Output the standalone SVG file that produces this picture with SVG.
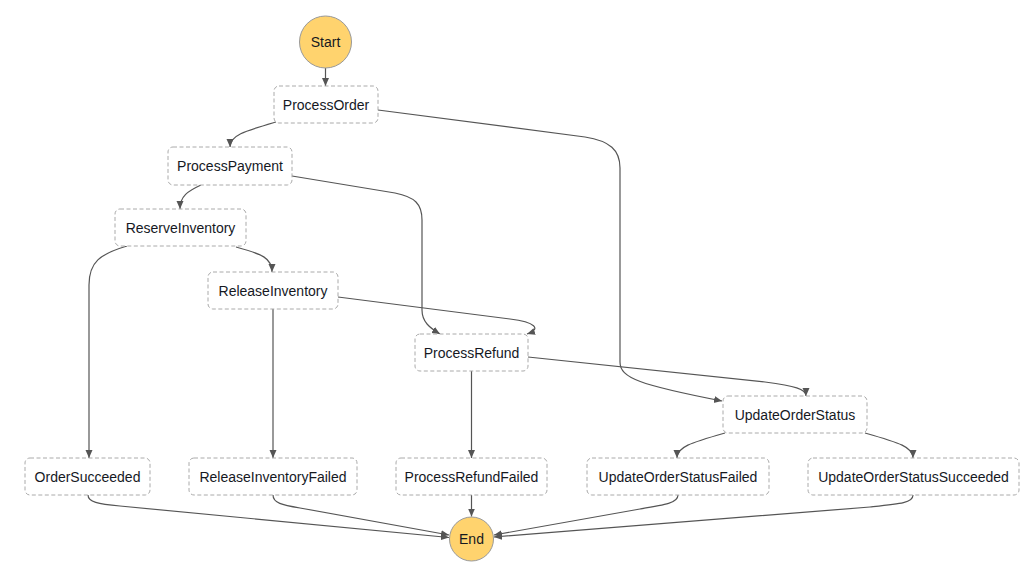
<svg xmlns="http://www.w3.org/2000/svg" width="1030" height="565" viewBox="0 0 1030 565">
<defs>
<marker id="arr" markerUnits="userSpaceOnUse" markerWidth="9" markerHeight="8" refX="8" refY="3.5" orient="auto">
<path d="M0,0 L8,3.5 L0,7 z" fill="#555"/>
</marker>
<style>
.node rect{fill:#fff;stroke:#aaa;stroke-width:1;stroke-dasharray:4 2.5}
.term circle{fill:#ffd36e;stroke:#999;stroke-width:1}
text{font-family:"Liberation Sans",Arial,sans-serif;font-size:14px;fill:#16191f;text-anchor:middle}
#edges path{fill:none;stroke:#555;stroke-width:1.2;marker-end:url(#arr)}
</style>
</defs>
<rect width="1030" height="565" fill="#fff"/>
<g id="edges">
<path d="M325.5,68 L325.5,86"/>
<path d="M276,122 C245,131 230,135 230,147"/>
<path d="M378,110 L585,137 C610,141 620,150 620,168 L620,362 C620,378 640,385 722,401"/>
<path d="M201,185 C188,191 180,196 180,209"/>
<path d="M292,176 L395,193 C415,197 422,204 422,220 L422,310 C422,322 430,328 440,334"/>
<path d="M127,246 C100,254 89,262 89,285 L89,458"/>
<path d="M236,247 C262,254 272,258 272,272"/>
<path d="M273,309 L273,458"/>
<path d="M338,297 L510,319 C535,322 542,329 527,334"/>
<path d="M471.5,371 L471.5,458"/>
<path d="M528,357 L765,382 C795,386 806,389 806,396"/>
<path d="M725,433 C690,443 677,447 677,458"/>
<path d="M865,433 C900,443 913,447 913,458"/>
<path d="M88,495 C88,502 98,504 120,506 L449,537.5"/>
<path d="M273,495 C273,503 282,505 300,508 L449,535"/>
<path d="M471.5,495 L471.5,516.5"/>
<path d="M678,495 C678,503 665,505 640,509 L494,535"/>
<path d="M913,495 C913,503 900,504 870,507 L494,537"/>
</g>
<g id="Start" class="term"><circle cx="325.5" cy="42" r="26"/><text x="325.5" y="47">Start</text></g>
<g id="ProcessOrder" class="node"><rect x="274" y="86" width="104" height="37" rx="5"/><text x="326" y="109.5">ProcessOrder</text></g>
<g id="ProcessPayment" class="node"><rect x="168" y="147" width="124" height="38" rx="5"/><text x="230" y="171">ProcessPayment</text></g>
<g id="ReserveInventory" class="node"><rect x="115" y="209" width="131" height="37" rx="5"/><text x="180.5" y="232.5">ReserveInventory</text></g>
<g id="ReleaseInventory" class="node"><rect x="208" y="272" width="130" height="37" rx="5"/><text x="273" y="295.5">ReleaseInventory</text></g>
<g id="ProcessRefund" class="node"><rect x="415" y="334" width="113" height="37" rx="5"/><text x="471.5" y="357.5">ProcessRefund</text></g>
<g id="UpdateOrderStatus" class="node"><rect x="723" y="396" width="144" height="37" rx="5"/><text x="795" y="419.5">UpdateOrderStatus</text></g>
<g id="OrderSucceeded" class="node"><rect x="25" y="458" width="125" height="37" rx="5"/><text x="87.5" y="481.5">OrderSucceeded</text></g>
<g id="ReleaseInventoryFailed" class="node"><rect x="189" y="458" width="168" height="37" rx="5"/><text x="273" y="481.5">ReleaseInventoryFailed</text></g>
<g id="ProcessRefundFailed" class="node"><rect x="396" y="458" width="151" height="37" rx="5"/><text x="471.5" y="481.5">ProcessRefundFailed</text></g>
<g id="UpdateOrderStatusFailed" class="node"><rect x="587" y="458" width="182" height="37" rx="5"/><text x="678" y="481.5">UpdateOrderStatusFailed</text></g>
<g id="UpdateOrderStatusSucceeded" class="node"><rect x="808" y="458" width="211" height="37" rx="5"/><text x="913.5" y="481.5">UpdateOrderStatusSucceeded</text></g>
<g id="End" class="term"><circle cx="471.5" cy="539" r="22"/><text x="471.5" y="544">End</text></g>
</svg>
